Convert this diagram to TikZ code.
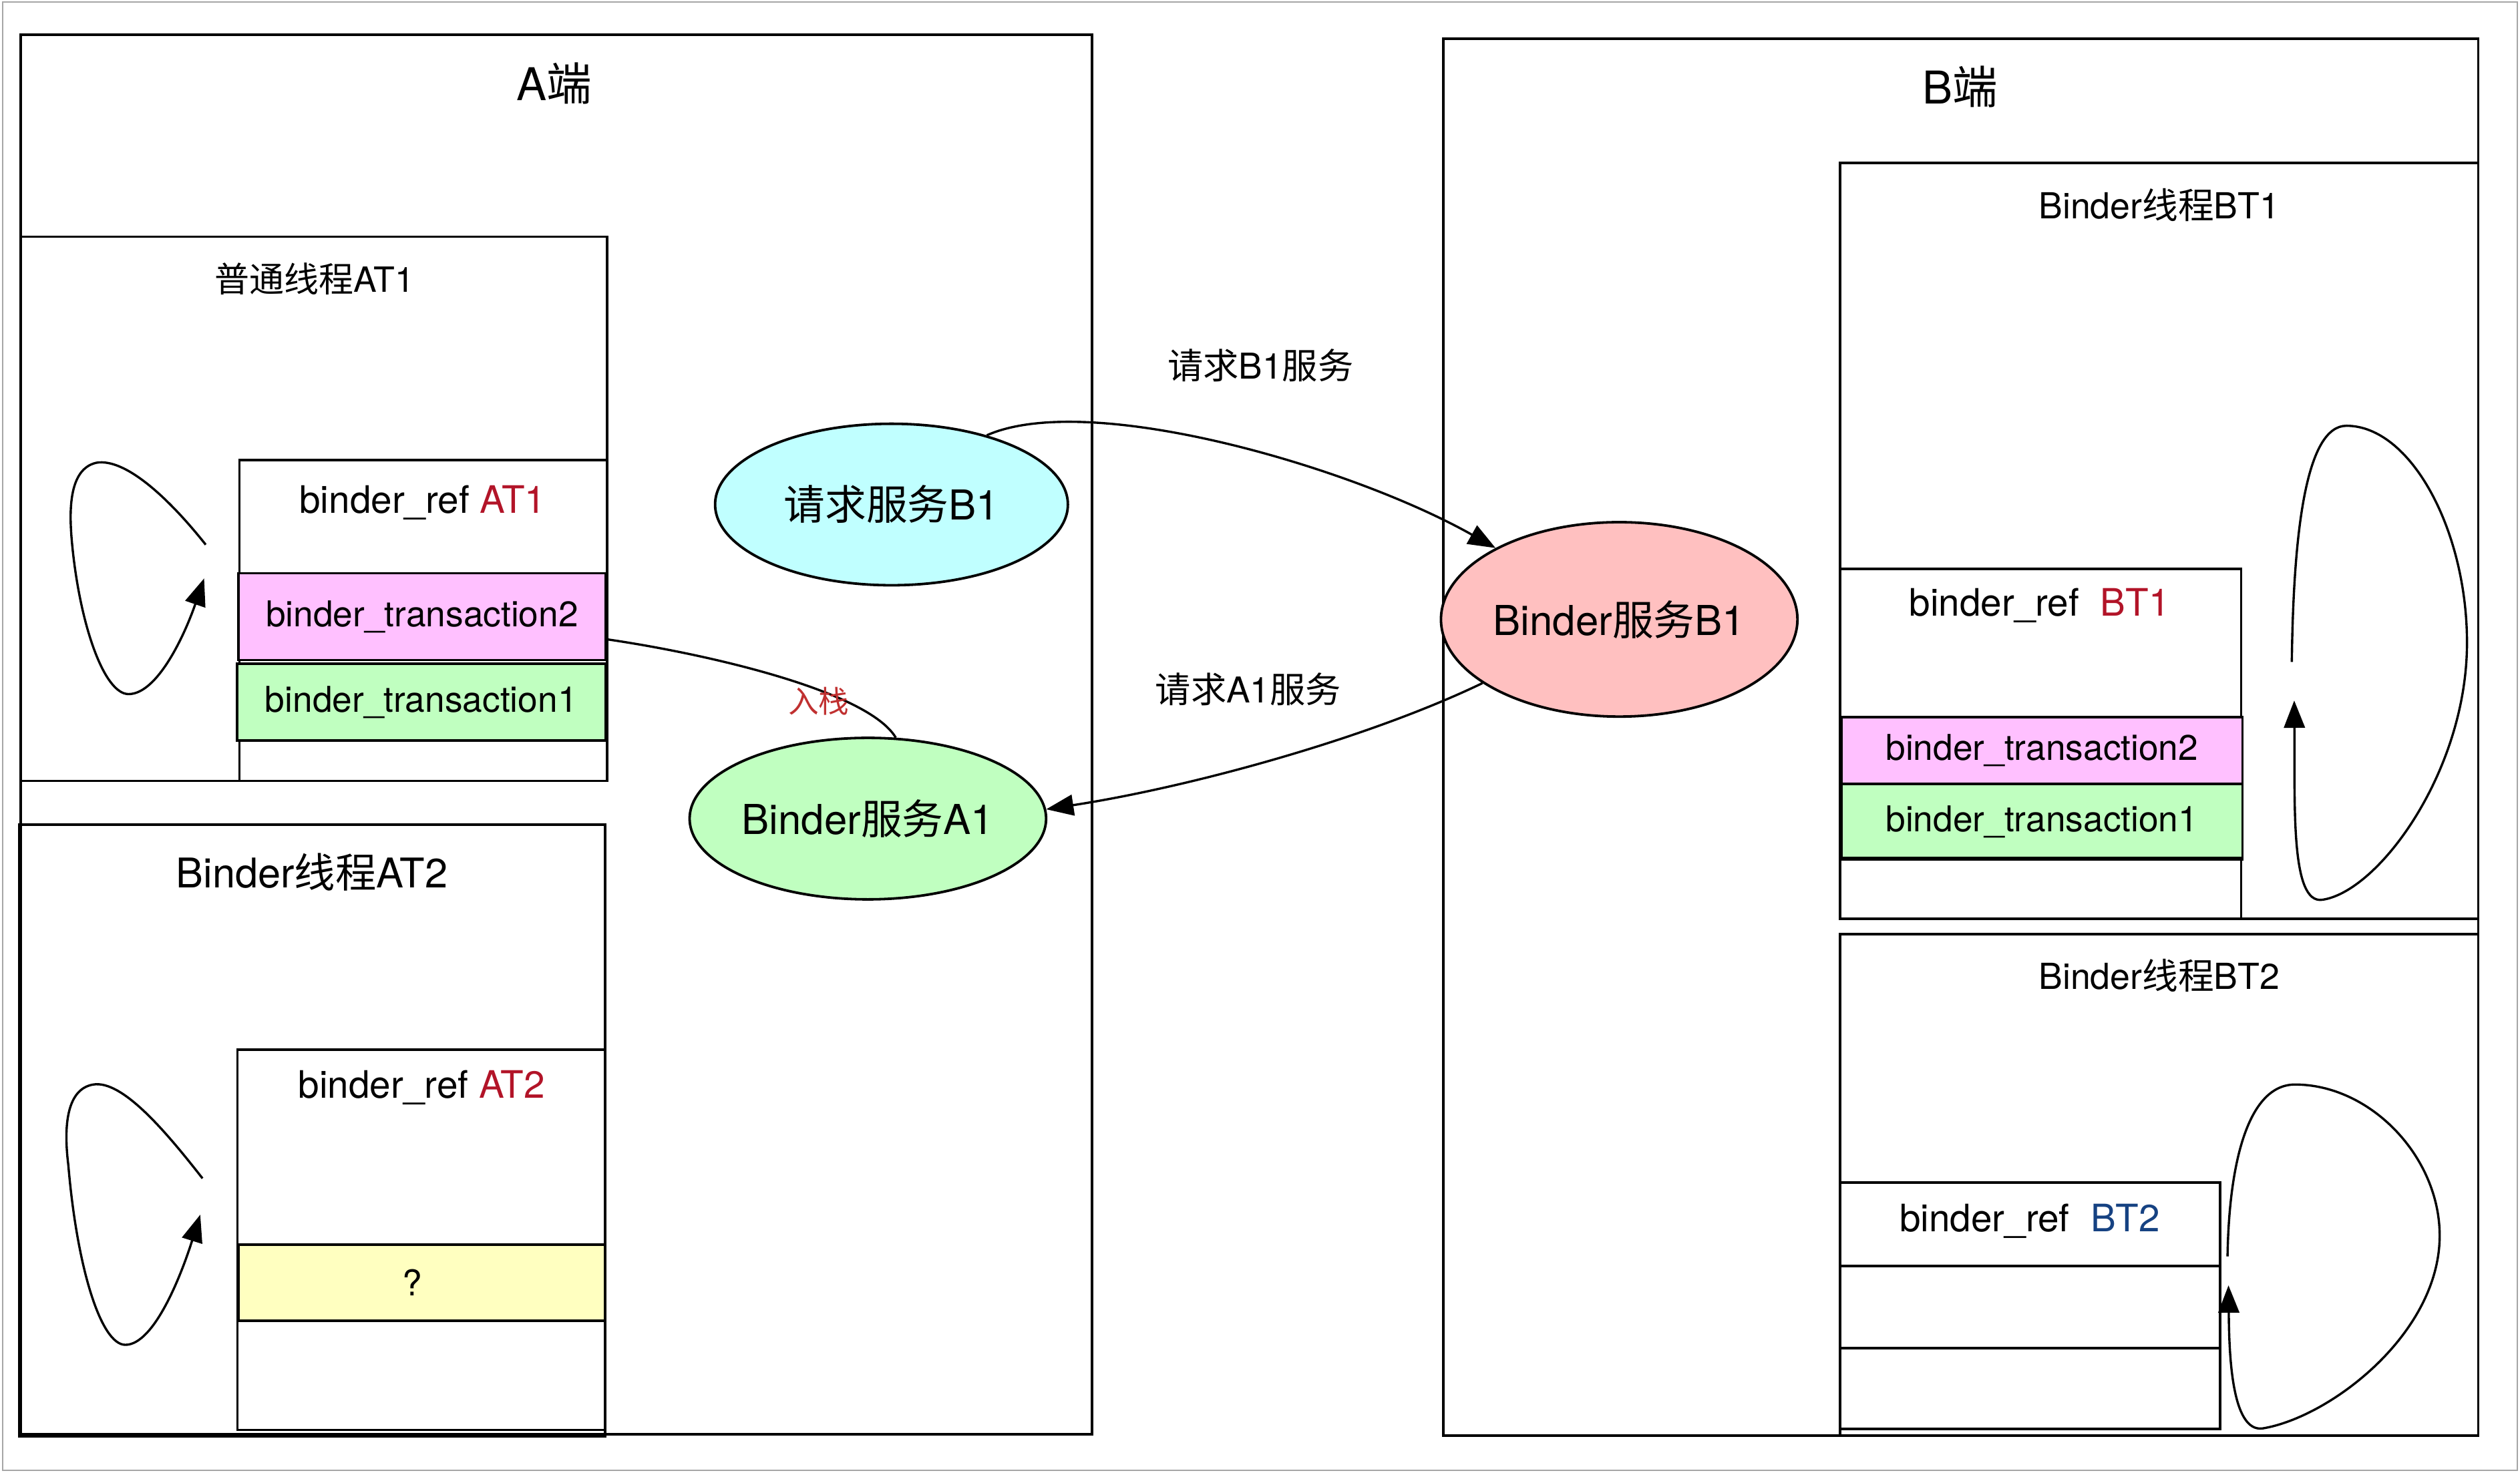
\documentclass[tikz,border=0pt]{standalone}
\usepackage{fontspec}
\setmainfont{TeX Gyre Heros}
\newfontfamily\cjk{Noto Sans CJK SC}
\usetikzlibrary{arrows.meta,shapes.geometric}

\definecolor{rowpink}{RGB}{255,192,255}
\definecolor{rowgreen}{RGB}{192,255,192}
\definecolor{rowyellow}{RGB}{255,255,192}
\definecolor{svccyan}{RGB}{192,255,255}
\definecolor{svcpink}{RGB}{255,192,192}
\definecolor{refred}{RGB}{178,20,40}
\definecolor{refblue}{RGB}{22,66,130}
\definecolor{pushred}{RGB}{192,48,48}

\tikzset{
  box/.style={draw, line width=0.9pt},
  row/.style={draw, line width=0.9pt, anchor=north west, inner sep=0pt, font=\fontsize{12.6}{14}\selectfont},
  svc/.style={ellipse, draw, line width=0.9pt, minimum width=43.9mm, minimum height=20.1mm, inner sep=0pt, font=\fontsize{14.6}{16}\selectfont},
  call/.style={line width=0.8pt, -{Triangle[length=3.4mm,width=2.6mm]}},
  lbl/.style={font=\fontsize{12.6}{14}\selectfont},
  reflbl/.style={font=\fontsize{13.4}{15}\selectfont},
}

\begin{document}
\begin{tikzpicture}[x=0.2mm, y=-0.2mm]
  \useasboundingbox (0,0) rectangle (1568,918);
  \draw[gray!70, line width=0.45pt] (1.7,1.4) rectangle (1566.4,915.2);

  % A side
  \draw[box] (13,21.6) rectangle (679.5,892.6);
  \node[font=\fontsize{16}{18}\selectfont] (endA) at (345,52) {A{\cjk 端}};

  \draw[box] (13,147.3) rectangle (377.8,486);
  \node[font=\fontsize{12.3}{14}\selectfont] (thrAT1) at (195.7,173.6) {{\cjk 普通线程}AT1};
  \draw[box] (149,286.2) rectangle (377.8,486);
  \node[reflbl] (refAT1) at (263,313) {binder\_ref \textcolor{refred}{AT1}};
  \node[row, fill=rowpink, minimum width=45.7mm, minimum height=10.8mm] (tA2) at (147.6,356) {binder\_transaction2};
  \node[row, fill=rowgreen, minimum width=45.9mm, minimum height=9.6mm] (tA1) at (146.6,412.2) {binder\_transaction1};

  \draw[box] (12,513.3) rectangle (376.5,893.9);
  \node[font=\fontsize{14.5}{16}\selectfont] (thrAT2) at (194,542.6) {Binder{\cjk 线程}AT2};
  \draw[box] (147.7,653.4) rectangle (376.5,890);
  \node[reflbl] (refAT2) at (262.3,677) {binder\_ref \textcolor{refred}{AT2}};
  \node[row, fill=rowyellow, minimum width=45.6mm, minimum height=9.5mm] (tAq) at (147.7,773.7) {\hspace*{-2.4mm}?};

  \coordinate (lpA1s) at (128,339);
  \coordinate (lpA1e) at (127,360);
  \draw[call] (lpA1s) .. controls (105,310) and (78,285) .. (60,288) .. controls (42,292) and (43,320) .. (45,340)
    .. controls (50,390) and (65,432) .. (80,432) .. controls (98,432) and (115,395) .. (lpA1e);
  \coordinate (lpA2s) at (126,733.4);
  \coordinate (lpA2e) at (124.6,756);
  \draw[call] (lpA2s) .. controls (103,704) and (76,672) .. (58,675) .. controls (40,678) and (40,705) .. (42.5,725)
    .. controls (48,790) and (63,837) .. (78,837) .. controls (96,837) and (113,793) .. (lpA2e);

  \node[svc, fill=svccyan] (reqB1) at (554.7,314) {{\cjk 请求服务}B1};
  \node[svc, fill=rowgreen] (svcA1) at (540,509.5) {Binder{\cjk 服务}A1};

  % B side
  \draw[box] (898,24) rectangle (1542,893.6);
  \node[font=\fontsize{16}{18}\selectfont] (endB) at (1219.5,54) {B{\cjk 端}};

  \draw[box] (1145,101.3) rectangle (1542,572);
  \node[font=\fontsize{12.7}{14}\selectfont] (thrBT1) at (1343.5,127.5) {Binder{\cjk 线程}BT1};
  \draw[box] (1145,354) rectangle (1394.5,572);
  \node[reflbl] (refBT1) at (1269,377) {binder\_ref~~\textcolor{refred}{BT1}};
  \node[row, fill=rowpink, minimum width=49.9mm, minimum height=8.3mm] (tB2) at (1145,445.6) {binder\_transaction2};
  \node[row, fill=rowgreen, minimum width=49.9mm, minimum height=9.4mm] (tB1) at (1145,487) {binder\_transaction1};
  \draw[box] (1145,534) -- (1394.5,534);

  \draw[box] (1145,581.5) rectangle (1542,893.6);
  \node[font=\fontsize{12.7}{14}\selectfont] (thrBT2) at (1343.5,607) {Binder{\cjk 线程}BT2};
  \draw[box] (1145,736) rectangle (1381.5,889.5);
  \node[reflbl] (refBT2) at (1263,760) {binder\_ref~~\textcolor{refblue}{BT2}};
  \draw[box] (1145,788) -- (1381.5,788);
  \draw[box] (1145,839) -- (1381.5,839);

  \coordinate (lpB1s) at (1426,412);
  \coordinate (lpB1e) at (1427.5,436);
  \draw[call] (lpB1s) .. controls (1427,330) and (1435,265) .. (1460,265) .. controls (1500,265) and (1535,330) .. (1535,400)
    .. controls (1535,480) and (1480,555) .. (1445,560) .. controls (1425,563) and (1428,500) .. (lpB1e);
  \coordinate (lpB2s) at (1386,782);
  \coordinate (lpB2e) at (1386.6,800);
  \draw[call] (lpB2s) .. controls (1387,720) and (1400,675) .. (1428,675) .. controls (1475,675) and (1518,720) .. (1518,769)
    .. controls (1518,830) and (1450,882) .. (1408,889) .. controls (1388,892) and (1387,840) .. (lpB2e);

  \node[svc, fill=svcpink, minimum width=43.8mm, minimum height=24.2mm] (svcB1) at (1007.5,385.5) {Binder{\cjk 服务}B1};

  % calls
  \draw[call] (reqB1.36) .. controls (677,243) and (840,290) .. (svcB1.150);
  \node[lbl] (askB1) at (784.3,227.6) {{\cjk 请求}B1{\cjk 服务}};
  \draw[call] (svcB1.205) .. controls (850,460) and (740,490) .. (svcA1.3);
  \node[lbl] (askA1) at (776.7,429.2) {{\cjk 请求}A1{\cjk 服务}};
  \draw[line width=0.8pt] (tA2.-7) .. controls (440,407) and (540,430) .. (svcA1.71);
  \node[font=\fontsize{10.8}{12}\selectfont, text=pushred] (push) at (509.4,436.3) {{\cjk 入栈}};
\end{tikzpicture}
\end{document}
